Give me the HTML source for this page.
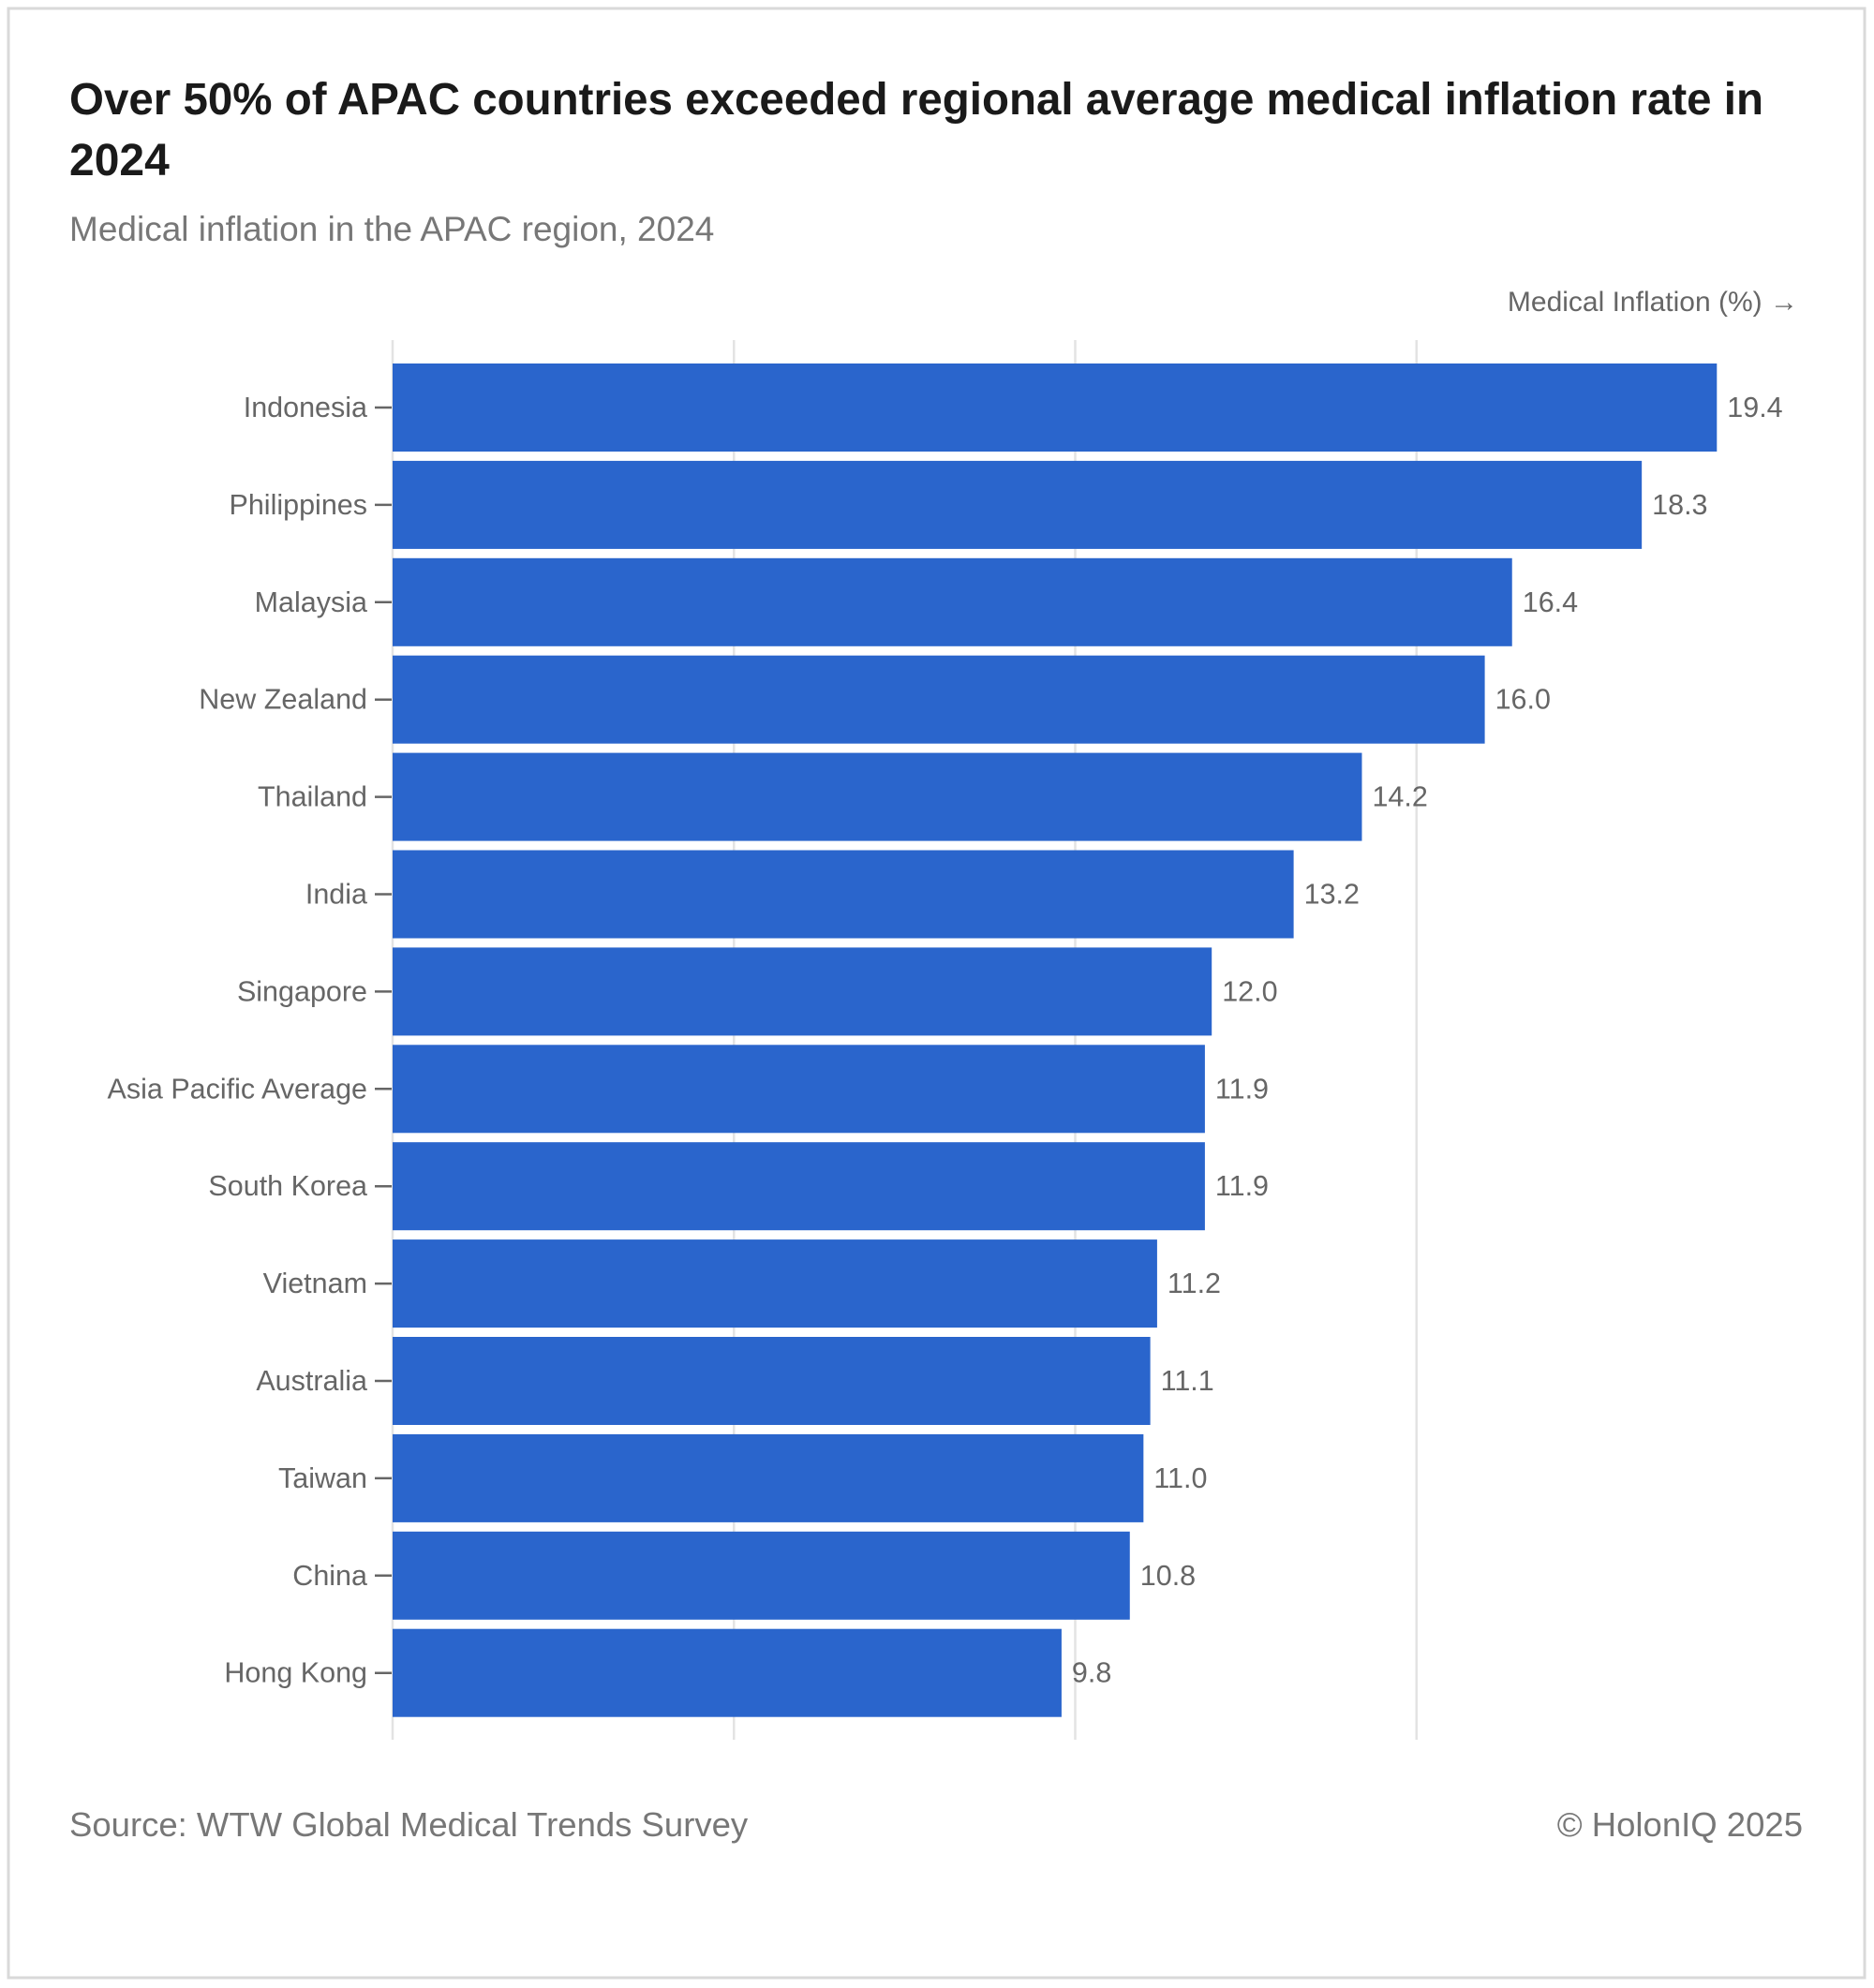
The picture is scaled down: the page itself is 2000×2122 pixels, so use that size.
<!DOCTYPE html>
<html><head><meta charset="utf-8"><style>
html,body{margin:0;padding:0;background:#fff;}
svg{display:block;font-family:"Liberation Sans",sans-serif;}
</style></head><body>
<svg id="chart" width="2000" height="2122" viewBox="0 0 2000 2122">
<rect x="9" y="9" width="1981" height="2102" fill="#fff" stroke="#d9d9d9" stroke-width="3"/>
<text x="74" y="122" font-size="48" font-weight="bold" fill="#1a1a1a" textLength="1808" lengthAdjust="spacingAndGlyphs">Over 50% of APAC countries exceeded regional average medical inflation rate in</text>
<text x="74" y="187" font-size="48" font-weight="bold" fill="#1a1a1a">2024</text>
<text x="74" y="257" font-size="37" fill="#777">Medical inflation in the APAC region, 2024</text>
<text x="1919" y="332" font-size="30" fill="#666" text-anchor="end">Medical Inflation (%) →</text>
<g id="grid"></g>
<g id="bars"></g>
<text x="74" y="1960" font-size="36.5" fill="#777">Source: WTW Global Medical Trends Survey</text>
<text x="1924" y="1960" font-size="36.5" fill="#777" text-anchor="end">© HolonIQ 2025</text>
</svg>
<script>
const categories = ["Indonesia","Philippines","Malaysia","New Zealand","Thailand","India","Singapore","Asia Pacific Average ","South Korea","Vietnam","Australia","Taiwan","China","Hong Kong"];
const values = [19.4,18.3,16.4,16.0,14.2,13.2,12.0,11.9,11.9,11.2,11.1,11.0,10.8,9.8];
const valueLabels = ["19.4","18.3","16.4","16.0","14.2","13.2","12.0","11.9","11.9","11.2","11.1","11.0","10.8","9.8"];
const gridTicks = [0,5,10,15];

const NS = "http://www.w3.org/2000/svg";
const x0 = 419, unit = 72.85;
const bandTop = 383, step = 103.9;
const x = v => x0 + v * unit;
const yBand = i => bandTop + i * step;
const grid = document.getElementById('grid');
const bars = document.getElementById('bars');
function mk(tag, attrs, parent){const e=document.createElementNS(NS,tag);for(const k in attrs)e.setAttribute(k,attrs[k]);parent.appendChild(e);return e;}
gridTicks.forEach(t=>{
  const l = mk('line',{x1:x(t),x2:x(t),y1:363,y2:1857,stroke:'#e3e3e3','stroke-width':2.5},grid);
  
  
});
categories.forEach((c,i)=>{
  const top = yBand(i)+5, h = 94, mid = top + h/2;
  const r = mk('rect',{x:x0,y:top,width:x(values[i])-x0,height:h,fill:'#2a65cc'},bars);
  
  
  const tk = mk('line',{x1:400,x2:418,y1:mid,y2:mid,stroke:'#666','stroke-width':2.5},bars);
  
  
  const lb = mk('text',{x:392,y:mid+10,'font-size':30.5,fill:'#666','text-anchor':'end'},bars);
  lb.textContent = c;
  
  
  const vl = mk('text',{x:x(values[i])+11,y:mid+10,'font-size':30.5,fill:'#666'},bars);
  vl.textContent = valueLabels[i];
  
  
});
</script>
</body></html>
